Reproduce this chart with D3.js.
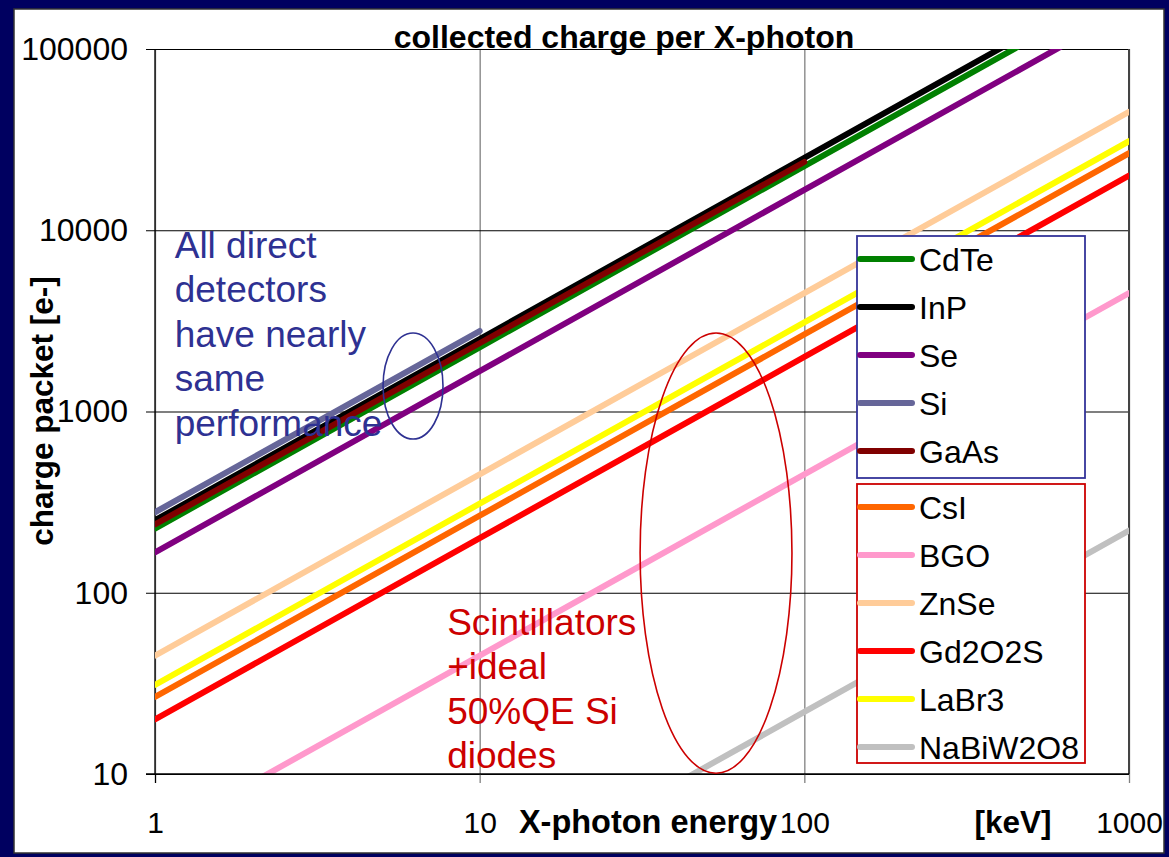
<!DOCTYPE html>
<html>
<head>
<meta charset="utf-8">
<script src="https://cdn.jsdelivr.net/npm/d3@7"></script>
<style>
  body { margin: 0; background: #000060; }
  svg { display: block; font-family: "Liberation Sans", Arial, sans-serif; }
</style>
</head>
<body>
<script>
/* collected charge per X-photon
 * straight lines on a log-log plot
 * */

// X axis: photon energy [keV]
var energies = [1, 10, 100, 1000];
var xTicks = [1, 10, 100, 1000];
var yTicks = [10, 100, 1000, 10000, 100000];

// charge packet [e-] per series, one value per energy
var cdTe     = [226, 2260, 22600, 226000];
var inP      = [251, 2510, 25100, 251000];
var se       = [167, 1670, 16700, 167000];
var si       = [278, 2780];
var gaAs     = [238, 2380, 23800];
var csI      = [26.6, 266, 2660, 26600];
var bgo      = [4.5, 45, 450, 4500];
var znSe     = [45, 450, 4500, 45000];
var gd2o2s   = [20, 200, 2000, 20000];
var laBr3    = [31, 310, 3100, 31000];
var naBiW2O8 = [0.22, 2.2, 22, 220];

var seriesNames  = ['CdTe', 'InP', 'Se', 'Si', 'GaAs', 'CsI', 'BGO', 'ZnSe', 'Gd2O2S', 'LaBr3', 'NaBiW2O8'];
var seriesValues = [cdTe, inP, se, si, gaAs, csI, bgo, znSe, gd2o2s, laBr3, naBiW2O8];
var seriesColors = ['#008000', '#000000', '#800080', '#666699', '#800000',
                    '#ff6600', '#ff99cc', '#ffcc99', '#ff0000', '#ffff00', '#c0c0c0'];

var directNote = ['All direct', 'detectors', 'have nearly', 'same', 'performance'];
var scintNote  = ['Scintillators', '+ideal', '50%QE Si', 'diodes'];

var W = 1169, H = 857;
var margin = {left: 155, right: 1129, top: 49, bottom: 774};

var svg = d3.select('body').append('svg')
    .attr('width', W)
    .attr('height', H);

// white slide panel
svg.append('rect')
    .attr('x', 14).attr('y', 9)
    .attr('width', 1150).attr('height', 844)
    .attr('fill', '#fff')
    .attr('stroke', '#333')
    .attr('stroke-width', 1.5);

var x = d3.scaleLog().domain([1, 1000]).range([margin.left, margin.right]);
var y = d3.scaleLog().domain([10, 100000]).range([margin.bottom, margin.top]);

// vertical grid (gray)
svg.append('g')
    .attr('transform', 'translate(0,' + margin.bottom + ')')
    .call(d3.axisBottom(x).tickValues(xTicks).tickSize(-(margin.bottom - margin.top)).tickFormat(''))
    .call(function(g) {
      g.select('.domain').remove();
      g.selectAll('.tick line').attr('stroke', '#808080').attr('stroke-width', 1.3);
    });

// horizontal grid (black) + y tick labels
svg.append('g')
    .attr('transform', 'translate(' + margin.left + ',0)')
    .call(d3.axisLeft(y).tickValues(yTicks).tickSize(9).tickPadding(18).tickFormat(d3.format('d')))
    .call(function(g) {
      g.select('.domain').remove();
      g.selectAll('.tick line').attr('x2', margin.right - margin.left).attr('x1', -9)
        .attr('stroke', '#000').attr('stroke-width', 1.2);
      g.selectAll('.tick text').attr('font-size', 32).attr('fill', '#000')
        .attr('font-family', '"Liberation Sans", Arial, sans-serif');
    });

// x ticks below axis + labels
svg.append('g')
    .attr('transform', 'translate(0,' + margin.bottom + ')')
    .call(d3.axisBottom(x).tickValues(xTicks).tickSize(9).tickPadding(29).tickFormat(d3.format('d')))
    .call(function(g) {
      g.select('.domain').remove();
      g.selectAll('.tick line').attr('stroke', function(d) { return d == 1 ? '#000' : '#808080'; })
        .attr('stroke-width', 1.3);
      g.selectAll('.tick text').attr('font-size', 30).attr('fill', '#000')
        .attr('font-family', '"Liberation Sans", Arial, sans-serif');
    });

// plot frame: left black, right gray
svg.append('line')
    .attr('x1', margin.left).attr('x2', margin.left)
    .attr('y1', margin.top).attr('y2', margin.bottom)
    .attr('stroke', '#000').attr('stroke-width', 1.3);
svg.append('line')
    .attr('x1', margin.right).attr('x2', margin.right)
    .attr('y1', margin.top).attr('y2', margin.bottom)
    .attr('stroke', '#444').attr('stroke-width', 2);

// series
svg.append('clipPath').attr('id', 'plotClip')
  .append('rect')
    .attr('x', margin.left).attr('y', margin.top)
    .attr('width', margin.right - margin.left)
    .attr('height', margin.bottom - margin.top);

var line = d3.line()
    .x(function(d) { return x(d[0]); })
    .y(function(d) { return y(d[1]); });

svg.append('g').attr('clip-path', 'url(#plotClip)')
  .selectAll('path')
  .data(seriesValues)
  .enter().append('path')
    .attr('d', function(vals) {
      return line(vals.map(function(v, i) { return [energies[i], v]; }));
    })
    .attr('fill', 'none')
    .attr('stroke', function(d, i) { return seriesColors[i]; })
    .attr('stroke-width', 6)
    .attr('stroke-linecap', 'round')
    .attr('stroke-linejoin', 'round');

// bottom axis line on top of the lines
svg.append('line')
    .attr('x1', margin.left - 9).attr('x2', margin.right)
    .attr('y1', margin.bottom).attr('y2', margin.bottom)
    .attr('stroke', '#000').attr('stroke-width', 1.3);

// titles
svg.append('text')
    .attr('x', 624).attr('y', 48)
    .attr('text-anchor', 'middle')
    .attr('font-size', 32).attr('font-weight', 'bold')
    .text('collected charge per X-photon');

svg.append('text')
    .attr('x', 648).attr('y', 833)
    .attr('text-anchor', 'middle')
    .attr('font-size', 32.5).attr('font-weight', 'bold')
    .text('X-photon energy');

svg.append('text')
    .attr('x', 1013).attr('y', 833)
    .attr('text-anchor', 'middle')
    .attr('font-size', 31.5).attr('font-weight', 'bold')
    .text('[keV]');

svg.append('text')
    .attr('transform', 'translate(53,411) rotate(-90)')
    .attr('text-anchor', 'middle')
    .attr('font-size', 31.5).attr('font-weight', 'bold')
    .text('charge packet [e-]');

// annotations (anchored in data coordinates)
function note(lines, e, v, color) {
  var t = svg.append('text')
      .attr('x', x(e)).attr('y', y(v))
      .attr('font-size', 37)
      .attr('fill', color);
  t.selectAll('tspan')
    .data(lines)
    .enter().append('tspan')
      .attr('x', x(e))
      .attr('dy', function(d, i) { return i == 0 ? 0 : 44.5; })
      .text(function(d) { return d; });
}
note(directNote, 1.15, 7030, '#2e3192');
note(scintNote, 7.94, 58.5, '#cc0000');

function ring(e0, e1, v0, v1, color) {
  svg.append('ellipse')
      .attr('cx', (x(e0) + x(e1)) / 2)
      .attr('cy', (y(v0) + y(v1)) / 2)
      .attr('rx', Math.abs(x(e1) - x(e0)) / 2)
      .attr('ry', Math.abs(y(v1) - y(v0)) / 2)
      .attr('fill', 'none')
      .attr('stroke', color)
      .attr('stroke-width', 1.6);
}
ring(5.04, 7.71, 705, 2710, '#2e3192');
ring(31.2, 91.6, 10.1, 2710, '#cc0000');

// legends: direct detectors (blue box), scintillators (red box)
function legend(idx, bx, by, bw, bh, border) {
  var g = svg.append('g');
  g.append('rect')
      .attr('x', bx).attr('y', by)
      .attr('width', bw).attr('height', bh)
      .attr('fill', '#fff')
      .attr('stroke', border)
      .attr('stroke-width', 1.8);
  var row = g.selectAll('g.row')
      .data(idx)
      .enter().append('g').classed('row', true)
      .attr('transform', function(d, i) { return 'translate(' + bx + ',' + (by + 23 + i * 48) + ')'; });
  row.append('line')
      .attr('x1', 3).attr('x2', 55)
      .attr('stroke', function(d) { return seriesColors[d]; })
      .attr('stroke-width', 6)
      .attr('stroke-linecap', 'round');
  row.append('text')
      .attr('x', 62).attr('dy', '0.36em')
      .attr('font-size', 32)
      .text(function(d) { return seriesNames[d]; });
}
legend([0, 1, 2, 3, 4], 857, 236, 228, 242, '#333399');
legend([5, 6, 7, 8, 9, 10], 857, 484, 228, 279, '#cc0000');
</script>
</body>
</html>
